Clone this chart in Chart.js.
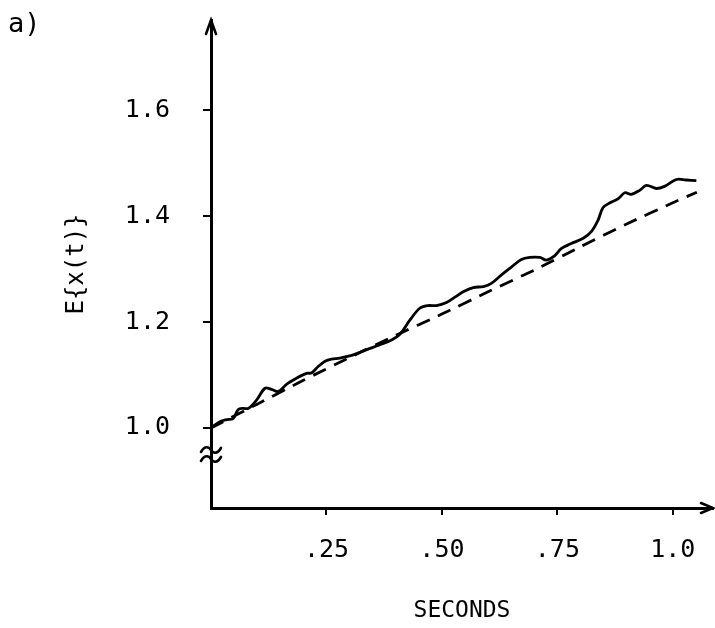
<!DOCTYPE html>
<html>
<head>
<meta charset="utf-8">
<script src="https://cdn.jsdelivr.net/npm/chart.js@4/dist/chart.umd.min.js"></script>
<style>
html,body{margin:0;padding:0;background:#fff;}
#wrap{position:relative;width:715px;height:628px;}
</style>
</head>
<body>
<div id="wrap"><canvas id="c" width="715" height="628"></canvas></div>
<script>
// ---- data ----
const solidX = [0,0.019,0.034,0.048,0.059,0.070,0.081,0.099,0.117,0.131,0.146,0.164,0.185,0.207,0.218,0.232,0.247,0.261,0.279,0.308,0.337,0.366,0.391,0.409,0.431,0.452,0.470,0.488,0.510,0.530,0.546,0.568,0.590,0.607,0.629,0.651,0.672,0.690,0.712,0.726,0.744,0.759,0.780,0.806,0.824,0.838,0.849,0.864,0.882,0.896,0.910,0.929,0.943,0.964,0.982,1.008,1.029,1.051];
const solidY = [1.000,1.012,1.016,1.018,1.035,1.037,1.037,1.053,1.075,1.073,1.069,1.083,1.094,1.103,1.104,1.116,1.126,1.130,1.132,1.138,1.148,1.157,1.166,1.177,1.204,1.226,1.231,1.231,1.237,1.248,1.257,1.265,1.267,1.273,1.289,1.304,1.318,1.322,1.322,1.317,1.325,1.339,1.348,1.358,1.371,1.392,1.416,1.425,1.433,1.444,1.441,1.449,1.458,1.452,1.456,1.469,1.468,1.467];
const dashX = [0,0.1,0.2,0.3,0.4,0.5,0.6,0.7,0.8,0.9,1.0,1.052];
const dashY = [1.000,1.045,1.090,1.133,1.175,1.215,1.257,1.298,1.342,1.385,1.425,1.445];
const xTickValues = [0.25,0.5,0.75,1.0];
const xTickLabels = ['.25','.50','.75','1.0'];
const yTickValues = [1.0,1.2,1.4,1.6];
const yTickLabels = ['1.0','1.2','1.4','1.6'];
const xTitle = 'SECONDS';
const yTitle = 'E{x(t)}';
const panelLabel = 'a)';

const FONT = "'DejaVu Sans Mono', monospace";

const decor = {
  id: 'decor',
  afterDraw(chart) {
    const ctx = chart.ctx, a = chart.chartArea;
    ctx.save();
    ctx.strokeStyle = '#000';
    ctx.lineWidth = 2.5;
    ctx.lineCap = 'round';
    // y-axis arrow head
    ctx.beginPath();
    ctx.moveTo(a.left - 5, a.top + 14);
    ctx.lineTo(a.left, a.top);
    ctx.lineTo(a.left + 5, a.top + 14);
    ctx.stroke();
    // x-axis arrow head
    ctx.beginPath();
    ctx.moveTo(a.right - 12, a.bottom - 5);
    ctx.lineTo(a.right, a.bottom);
    ctx.lineTo(a.right - 12, a.bottom + 5);
    ctx.stroke();
    // axis break symbol (two tildes)
    const yb = chart.scales.y.getPixelForValue(0.95);
    ctx.lineWidth = 2.6;
    [-4.5, 4.5].forEach(d => {
      const y0 = yb + d;
      ctx.beginPath();
      ctx.moveTo(a.left - 10, y0 + 2);
      ctx.bezierCurveTo(a.left - 6, y0 - 5, a.left - 2, y0 - 3, a.left, y0);
      ctx.bezierCurveTo(a.left + 2, y0 + 3, a.left + 6, y0 + 5, a.left + 10, y0 - 2);
      ctx.stroke();
    });
    // panel label
    ctx.fillStyle = '#000';
    ctx.font = "27px " + FONT;
    ctx.textAlign = 'left';
    ctx.textBaseline = 'middle';
    ctx.fillText(panelLabel, 8, 25);
    ctx.restore();
  }
};

new Chart(document.getElementById('c'), {
  type: 'line',
  data: {
    datasets: [
      { data: solidX.map((x,i)=>({x:x,y:solidY[i]})), borderColor:'#000', borderWidth:2.8, pointRadius:0, tension:0.35, fill:false },
      { data: dashX.map((x,i)=>({x:x,y:dashY[i]})), borderColor:'#000', borderWidth:2.8, borderDash:[14,9], pointRadius:0, tension:0.2, fill:false }
    ]
  },
  options: {
    responsive: false,
    animation: false,
    events: [],
    layout: { padding: { top: 20, right: 2, left: 0, bottom: 0 } },
    plugins: { legend: { display:false }, tooltip: { enabled:false } },
    scales: {
      x: {
        type: 'linear', min: 0, max: 1.087,
        afterBuildTicks: s => { s.ticks = xTickValues.map(v=>({value:v})); },
        afterFit: s => { s.height = 120; s.paddingLeft = 0; s.paddingRight = 0; },
        ticks: { callback: (v) => xTickLabels[xTickValues.indexOf(v)], color:'#000', font:{family:FONT, size:25}, padding: 20, maxRotation:0, autoSkip:false },
        grid: { display:true, drawOnChartArea:false, drawTicks:true, tickLength:7, color:'#000', lineWidth:2 },
        border: { display:true, color:'#000', width:3 },
        title: { display:true, text:xTitle, color:'#000', font:{family:FONT, size:23}, padding:{top:0,bottom:3} }
      },
      y: {
        type: 'linear', min: 0.849, max: 1.77,
        afterBuildTicks: s => { s.ticks = yTickValues.map(v=>({value:v})); },
        afterFit: s => { s.width = 211; s.paddingTop = 0; s.paddingBottom = 0; },
        ticks: { callback: (v) => yTickLabels[yTickValues.indexOf(v)], color:'#000', font:{family:FONT, size:25}, padding: 33, autoSkip:false },
        grid: { display:true, drawOnChartArea:false, drawTicks:true, tickLength:8, color:'#000', lineWidth:2 },
        border: { display:true, color:'#000', width:3 },
        title: { display:true, text:yTitle, color:'#000', font:{family:FONT, size:24}, padding:{top:62,bottom:0} }
      }
    }
  },
  plugins: [decor]
});
</script>
</body>
</html>
